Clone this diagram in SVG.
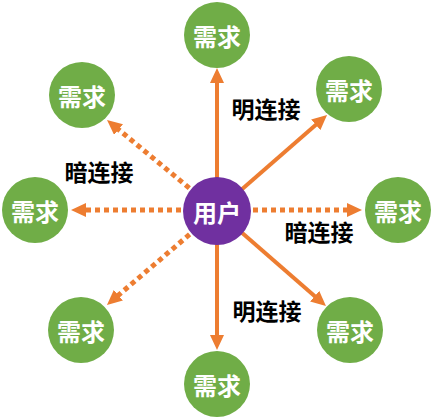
<svg xmlns="http://www.w3.org/2000/svg" width="433" height="419" viewBox="0 0 433 419">
<style>
.need{fill:#70AD47}
.user{fill:#7030A0}
.nt{font-family:"Noto Sans CJK SC","Noto Sans",sans-serif;font-weight:bold;font-size:24px;fill:#fff;text-anchor:middle;dominant-baseline:central}
.lbl{font-family:"Noto Sans CJK SC","Noto Sans",sans-serif;font-weight:bold;font-size:23px;fill:#000;text-anchor:middle;dominant-baseline:central}
.solid{stroke:#ED7D31;stroke-width:4;fill:none;marker-end:url(#ah)}
.dot{stroke:#ED7D31;stroke-width:5;fill:none;stroke-dasharray:5 4;marker-end:url(#ah)}
</style>
<defs>
<marker id="ah" markerUnits="userSpaceOnUse" markerWidth="16" markerHeight="14" refX="1" refY="7" orient="auto" viewBox="0 0 16 14">
<path d="M0,0 L15,7 L0,14 z" fill="#ED7D31"/>
</marker>
</defs>
<g id="connectors">
<line class="solid" x1="217" y1="211" x2="217" y2="82"/>
<line class="solid" x1="217" y1="211" x2="316.5" y2="124.2"/>
<line class="solid" x1="217" y1="211" x2="315.4" y2="296.8"/>
<line class="solid" x1="217" y1="211" x2="217" y2="336"/>
<line class="dot" x1="189.3" y1="188.1" x2="117.8" y2="128.9"/>
<line class="dot" x1="181" y1="210" x2="85" y2="210"/>
<line class="dot" x1="253" y1="210" x2="348" y2="210"/>
<line class="dot" x1="189.6" y1="234.4" x2="117.6" y2="295.9"/>
</g>
<g id="labels">
<text class="lbl" x="266" y="108">明连接</text>
<text class="lbl" x="99" y="171">暗连接</text>
<text class="lbl" x="319" y="231">暗连接</text>
<text class="lbl" x="267" y="310">明连接</text>
</g>
<g id="user"><circle class="user" cx="217" cy="211" r="34"/><text class="nt" x="217" y="211">用户</text></g>
<g id="need-top"><circle class="need" cx="217" cy="35" r="33"/><text class="nt" x="217" y="35">需求</text></g>
<g id="need-upper-right"><circle class="need" cx="349" cy="89" r="33"/><text class="nt" x="349" y="89">需求</text></g>
<g id="need-right"><circle class="need" cx="398" cy="210" r="33"/><text class="nt" x="398" y="210">需求</text></g>
<g id="need-lower-right"><circle class="need" cx="350" cy="330" r="33"/><text class="nt" x="350" y="330">需求</text></g>
<g id="need-bottom"><circle class="need" cx="217" cy="384" r="33"/><text class="nt" x="217" y="384">需求</text></g>
<g id="need-lower-left"><circle class="need" cx="81" cy="330" r="33"/><text class="nt" x="81" y="330">需求</text></g>
<g id="need-left"><circle class="need" cx="35" cy="210" r="33"/><text class="nt" x="35" y="210">需求</text></g>
<g id="need-upper-left"><circle class="need" cx="82" cy="95" r="33"/><text class="nt" x="82" y="95">需求</text></g>
</svg>
